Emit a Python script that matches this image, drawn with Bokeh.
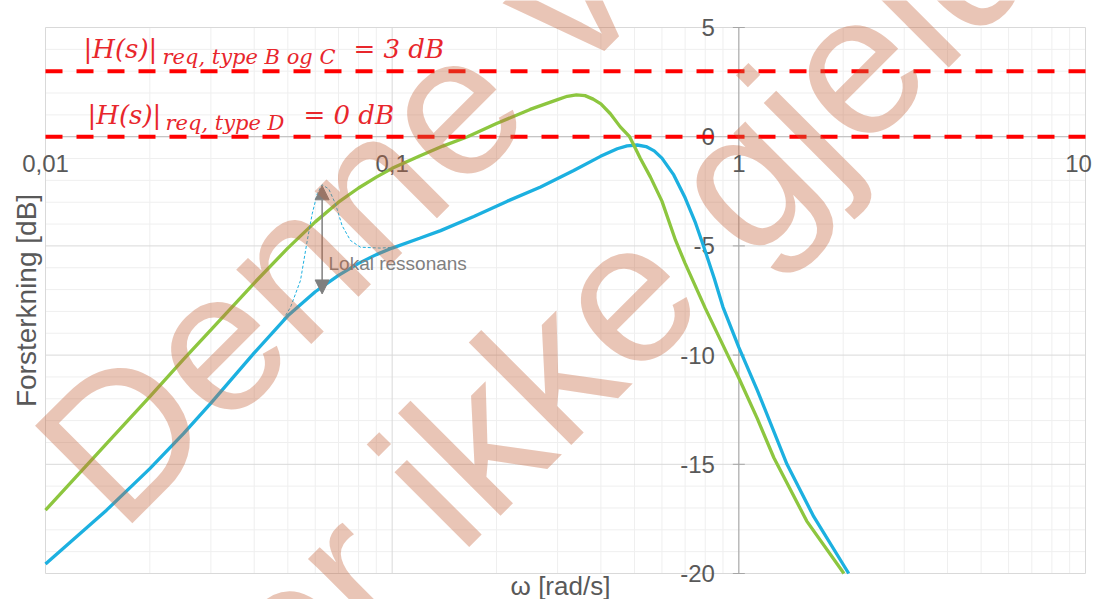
import math
from bokeh.plotting import figure
from bokeh.models import Label, Arrow, NormalHead
from bokeh.core.properties import value
from bokeh.embed import file_html
from bokeh.resources import INLINE

# ---------------- data ----------------
w_green = [0.01, 0.015, 0.02, 0.025, 0.03, 0.04, 0.05, 0.06, 0.07, 0.08, 0.09, 0.1,
           0.12, 0.14, 0.165, 0.2, 0.25, 0.3, 0.32, 0.34, 0.36, 0.38, 0.4, 0.426, 0.455,
           0.484, 0.5, 0.52, 0.556, 0.6, 0.657, 0.7, 0.8, 0.929, 1.0, 1.13, 1.262, 1.57, 2.01]
db_green = [-17.1, -14.05, -11.9, -10.2, -8.85, -6.7, -5.1, -3.9, -3.0, -2.35, -1.85, -1.45,
            -0.88, -0.43, 0.0, 0.6, 1.25, 1.7, 1.85, 1.92, 1.88, 1.72, 1.5, 1.05, 0.45,
            0.0, -0.45, -1.0, -1.85, -2.95, -4.75, -5.8, -7.85, -10.0, -11.05, -12.9, -14.7, -17.6, -20.0]

w_blue = [0.01, 0.015, 0.02, 0.025, 0.03, 0.04, 0.05, 0.06, 0.07, 0.08, 0.09, 0.1,
          0.12, 0.138, 0.172, 0.215, 0.268, 0.334, 0.399, 0.446, 0.476, 0.509, 0.54,
          0.57, 0.6, 0.649, 0.7, 0.75, 0.79, 0.85, 0.9, 1.0, 1.13, 1.377, 1.645, 2.075]
db_blue = [-19.56, -17.1, -15.2, -13.6, -12.2, -9.9, -8.2, -7.1, -6.35, -5.8, -5.4, -5.1,
           -4.65, -4.3, -3.65, -2.95, -2.3, -1.55, -0.9, -0.55, -0.42, -0.38, -0.45,
           -0.65, -0.98, -1.75, -2.8, -3.95, -4.98, -6.5, -7.8, -9.65, -11.6, -15.0, -17.4, -20.0]

w_res = [0.0476, 0.0509, 0.0544, 0.0569, 0.0588, 0.0608, 0.0628, 0.0656, 0.0686,
         0.0717, 0.0758, 0.081, 0.0925, 0.1011]
db_res = [-8.57, -7.81, -6.58, -4.75, -3.53, -2.61, -2.2, -2.39, -3.07,
          -4.07, -4.75, -5.06, -5.1, -5.06]

res_arrow_w = 0.0628
res_arrow_top = -2.25
res_arrow_bottom = -7.2
res_label = "Lokal ressonans"

req_levels = [3, 0]

x_ticks = [0.01, 0.1, 1, 10]
x_tick_labels = ["0,01", "0,1", "1", "10"]
y_ticks = [5, 0, -5, -10, -15, -20]
y_tick_labels = ["5", "0", "-5", "-10", "-15", "-20"]

x_title = "ω [rad/s]"
y_title = "Forsterkning [dB]"

# ---------------- layout ----------------
X0, X1 = 0.01, 10          # plot area (data)
Y0, Y1 = -20, 5
W, H = 1092, 599           # canvas
FL, FT, FW, FH = 45, 27, 1040, 546   # plot area in pixels
PPD = FW / (math.log10(X1) - math.log10(X0))   # px per decade
PPY = FH / (Y1 - Y0)                            # px per dB


def px2data(px, py):
    """canvas pixel -> data coordinates (for annotation placement)"""
    return 10 ** (math.log10(X0) + (px - FL) / PPD), Y1 - (py - FT) / PPY


xr = (px2data(0, 0)[0], px2data(W, 0)[0])
yr = (px2data(0, H)[1], px2data(0, 0)[1])

p = figure(width=W, height=H, x_axis_type="log", x_range=xr, y_range=yr,
           output_backend="svg", toolbar_location=None, min_border=0)
p.axis.visible = False
p.grid.visible = False
p.outline_line_color = None
p.background_fill_color = "white"
p.border_fill_color = "white"

# ---------------- grid ----------------
minor_x = [m * 10.0 ** e for e in (-2, -1, 0) for m in range(2, 10)]
minor_y = [v for v in range(Y0, Y1 + 1) if v % 5]
major_y = [v for v in range(Y0, Y1 + 1, 5)]
p.multi_line([[v, v] for v in minor_x], [[Y0, Y1]] * len(minor_x), line_color="#efefef", line_width=1)
p.multi_line([[X0, X1]] * len(minor_y), [[v, v] for v in minor_y], line_color="#efefef", line_width=1)
p.multi_line([[v, v] for v in x_ticks], [[Y0, Y1]] * len(x_ticks), line_color="#d9d9d9", line_width=1)
p.multi_line([[X0, X1]] * len(major_y), [[v, v] for v in major_y], line_color="#d9d9d9", line_width=1)

# axis lines crossing at (1, 0)
p.line([1, 1], [Y0, Y1], line_color="#a6a6a6", line_width=1)
p.line([X0, X1], [0, 0], line_color="#bfbfbf", line_width=1)
p.scatter([1] * len(y_ticks), y_ticks, marker="dash", size=12, line_color="#a6a6a6", line_width=1)

# tick labels
p.text([1] * len(y_ticks), y_ticks, text=y_tick_labels, x_offset=-24,
       text_align="right", text_baseline="middle", text_font=value("Liberation Sans"),
       text_font_size="24px", text_color="#595959")
# last label is nudged left so it stays inside the canvas
x_label_nudge = [0, 0, 0, -7]
p.text(x_ticks, [0] * len(x_ticks), text=x_tick_labels, x_offset=x_label_nudge, y_offset=27,
       text_align="center", text_baseline="middle", text_font=value("Liberation Sans"),
       text_font_size="24px", text_color="#595959")

# axis titles
tx, ty = px2data(560, 585)
p.add_layout(Label(x=tx, y=ty, text=x_title, text_align="center", text_baseline="middle",
                   text_font="Liberation Sans", text_font_size="26px", text_color="#595959"))
tx, ty = px2data(26, 300)
p.add_layout(Label(x=tx, y=ty, text=y_title, text_align="center", text_baseline="middle",
                   angle=90, angle_units="deg",
                   text_font="Liberation Sans", text_font_size="28px", text_color="#595959"))

# ---------------- curves ----------------
p.line(w_blue, db_blue, line_color="#1cb0e0", line_width=3.3)
p.line(w_green, db_green, line_color="#8dc63f", line_width=3.3)
p.line(w_res, db_res, line_color="#1cb0e0", line_width=1, line_dash="3 2")

# requirement lines
for lvl in req_levels:
    p.line([X0, X1], [lvl, lvl], line_color="#ff0000", line_width=4, line_dash="17 14")

# resonance arrow + label
head = dict(size=14, fill_color="#7f7f7f", line_color="#7f7f7f")
p.add_layout(Arrow(start=NormalHead(**head), end=NormalHead(**head),
                   x_start=res_arrow_w, y_start=res_arrow_bottom,
                   x_end=res_arrow_w, y_end=res_arrow_top,
                   line_color="#7f7f7f", line_width=1.5))
lx, ly = px2data(328, 263)
p.add_layout(Label(x=lx, y=ly, text=res_label, text_baseline="middle",
                   text_font="Liberation Sans", text_font_size="19px", text_color="#7f7f7f"))

# requirement formulas
RED = "#e8262c"
formula_parts = [
    ("|H(s)|", 83, 48, "26px"), ("req, type B og C", 162, 56, "21px"), ("= 3 dB", 353, 48, "26px"),
    ("|H(s)|", 87, 114, "26px"), ("req, type D", 165, 122, "21px"), ("= 0 dB", 303, 114, "26px"),
]
for txt, px, py, fs in formula_parts:
    fx, fy = px2data(px, py)
    p.add_layout(Label(x=fx, y=fy, text=txt, text_baseline="alphabetic", text_align="left",
                       text_font="DejaVu Serif", text_font_style="italic",
                       text_font_size=fs, text_color=RED))

# watermark
for txt, px, py in [("Denne versjonen", 71, 485), ("er ikke gjeldende", 245, 672)]:
    wx, wy = px2data(px, py)
    p.add_layout(Label(x=wx, y=wy, text=txt, angle=45, angle_units="deg",
                       text_font="Liberation Sans", text_font_size="200px",
                       text_color="#c4673f", text_alpha=0.38, text_baseline="alphabetic"))

open("out.html", "w").write(file_html(p, INLINE))
